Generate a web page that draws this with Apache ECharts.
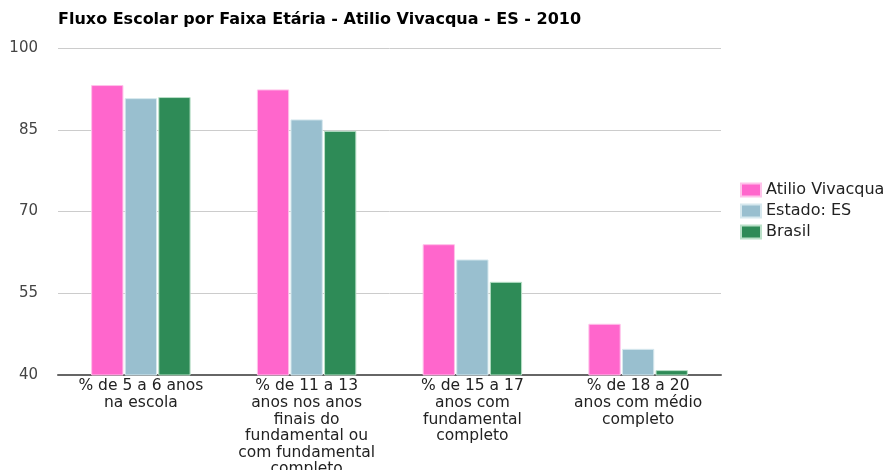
<!DOCTYPE html>
<html><head><meta charset="utf-8">
<script src="https://cdn.jsdelivr.net/npm/echarts@6/dist/echarts.min.js"></script>
<style>html,body{margin:0;padding:0;background:#fff}#c{width:890px;height:470px}</style>
</head><body><div id="c"></div>
<script>
const categories = [
  "% de 5 a 6 anos\nna escola",
  "% de 11 a 13\nanos nos anos\nfinais do\nfundamental ou\ncom fundamental\ncompleto",
  "% de 15 a 17\nanos com\nfundamental\ncompleto",
  "% de 18 a 20\nanos com médio\ncompleto"
];
const seriesNames = ["Atilio Vivacqua", "Estado: ES", "Brasil"];
const atilio = [93.2, 92.4, 64.0, 49.4];
const estado = [90.8, 86.9, 61.2, 44.8];
const brasil = [91.0, 84.8, 57.1, 40.9];
const yTicks = [40, 55, 70, 85, 100];
const colors = ["#ff66cc", "#99bfcf", "#2e8b57"];
const borders = ["#ffc2ea", "#d6e8ee", "#b9e0c8"];

const chart = echarts.init(document.getElementById('c'), null, {renderer: 'canvas'});
const font = "'DejaVu Sans', sans-serif";
const data = [atilio, estado, brasil];
chart.setOption({
  animation: false,
  title: {
    text: "Fluxo Escolar por Faixa Etária - Atilio Vivacqua - ES - 2010",
    left: 53, top: 7,
    textStyle: {fontFamily: font, fontSize: 16, fontWeight: 'bold', color: '#000'}
  },
  legend: {
    orient: 'vertical', left: 735, top: 177,
    itemWidth: 20, itemHeight: 13, itemGap: 5,
    icon: 'rect',
    textStyle: {fontFamily: font, fontSize: 16, color: '#222'},
    data: seriesNames
  },
  grid: {left: 58, right: 169, top: 48, bottom: 95, outerBoundsMode: 'none', containLabel: false},
  xAxis: {
    type: 'category', data: categories,
    axisLine: {lineStyle: {color: '#666', width: 2}},
    axisTick: {show: false},
    axisLabel: {fontFamily: font, fontSize: 15.5, color: '#222', lineHeight: 16.6, margin: 3, interval: 0}
  },
  yAxis: {
    type: 'value', min: yTicks[0], max: yTicks[yTicks.length-1], interval: 15,
    axisLine: {show: false}, axisTick: {show: false},
    splitLine: {lineStyle: {color: '#cccccc'}},
    axisLabel: {fontFamily: font, fontSize: 15, color: '#444', margin: 20}
  },
  series: seriesNames.map((n, i) => ({
    name: n, type: 'bar', data: data[i],
    barGap: '4%', barCategoryGap: '40%',
    itemStyle: {color: colors[i], borderColor: borders[i], borderWidth: 1}
  }))
});
</script></body></html>
